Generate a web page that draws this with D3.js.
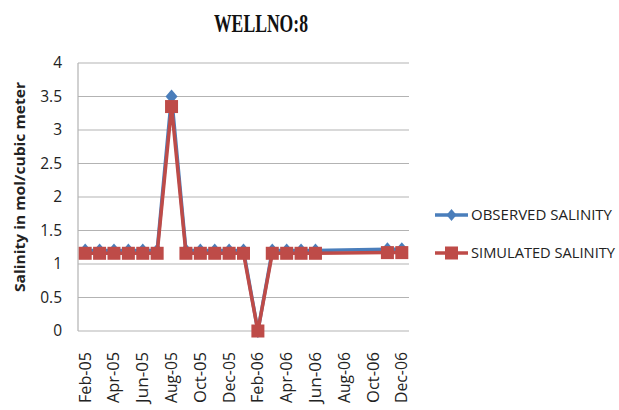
<!DOCTYPE html>
<html><head><meta charset="utf-8">
<script src="https://cdn.jsdelivr.net/npm/d3@7"></script>
<style>body{margin:0;background:#fff}svg{display:block}</style>
</head><body>
<svg id="c" width="619" height="410"></svg>
<script>
const months = ["Feb-05","Mar-05","Apr-05","May-05","Jun-05","Jul-05","Aug-05","Sep-05","Oct-05","Nov-05","Dec-05","Jan-06","Feb-06","Mar-06","Apr-06","May-06","Jun-06","Jul-06","Aug-06","Sep-06","Oct-06","Nov-06","Dec-06"];
const observed = [1.2,1.2,1.2,1.2,1.2,1.2,3.5,1.2,1.2,1.2,1.2,1.2,0,1.2,1.2,1.2,1.2,null,null,null,null,1.22,1.22];
const simulated = [1.16,1.16,1.16,1.16,1.16,1.16,3.35,1.16,1.16,1.16,1.16,1.16,0,1.16,1.16,1.16,1.16,null,null,null,null,1.17,1.17];
const yTicks = [0,0.5,1,1.5,2,2.5,3,3.5,4];
const xTickLabels = ["Feb-05","Apr-05","Jun-05","Aug-05","Oct-05","Dec-05","Feb-06","Apr-06","Jun-06","Aug-06","Oct-06","Dec-06"];
const seriesNames = ["OBSERVED SALINITY","SIMULATED SALINITY"];
const BLUE = "#4a7ebb", RED = "#be4b48";

const svg = d3.select("#c");
const x = d3.scaleBand().domain(months).range([78,409]).padding(0);
const y = d3.scaleLinear().domain([0,4]).range([331,63]);
const cx = m => x(m) + x.bandwidth()/2;

// gridlines
svg.append("g").selectAll("line").data(yTicks).join("line")
  .attr("x1",78).attr("x2",409).attr("y1",d=>y(d)).attr("y2",d=>y(d))
  .attr("stroke","#b3b3b3").attr("stroke-width",1.2);
// left axis line
svg.append("line").attr("x1",78).attr("x2",78).attr("y1",y(4)).attr("y2",y(0))
  .attr("stroke","#b3b3b3").attr("stroke-width",1.2);

// y tick labels
svg.append("g").selectAll("text").data(yTicks).join("text")
  .attr("x",62).attr("y",d=>y(d)).attr("dy","0.35em").attr("text-anchor","end")
  .attr("font-family","Open Sans, sans-serif").attr("font-size",15.5).attr("fill","#222")
  .text(d=>d3.format("")(d));

// x tick labels
svg.append("g").selectAll("text").data(xTickLabels).join("text")
  .attr("transform",d=>`translate(${cx(d)+5.5},352) rotate(-90)`)
  .attr("text-anchor","end")
  .attr("font-family","Open Sans, sans-serif").attr("font-size",15.5).attr("fill","#222")
  .attr("textLength",51).attr("lengthAdjust","spacingAndGlyphs")
  .text(d=>d);

// y axis title
svg.append("text").attr("transform","translate(25,187) rotate(-90)")
  .attr("text-anchor","middle").attr("font-family","Open Sans, sans-serif")
  .attr("font-weight","bold").attr("font-size",15).attr("fill","#222")
  .attr("textLength",210).attr("lengthAdjust","spacingAndGlyphs")
  .text("Salinity in mol/cubic meter");

// title
svg.append("text").attr("x",261).attr("y",32).attr("text-anchor","middle")
  .attr("font-family","Liberation Serif, serif").attr("font-weight","bold").attr("font-size",25)
  .attr("textLength",94).attr("lengthAdjust","spacingAndGlyphs").attr("fill","#111")
  .text("WELLNO:8");

const line = d3.line().x(d=>cx(d.m)).y(d=>y(d.v));
const pts = arr => months.map((m,i)=>({m, v:arr[i]})).filter(d=>d.v!==null);

// observed
svg.append("path").datum(pts(observed)).attr("d",line).attr("fill","none")
  .attr("stroke",BLUE).attr("stroke-width",3.5).attr("stroke-linejoin","round");
svg.append("g").selectAll("path").data(pts(observed)).join("path")
  .attr("transform",d=>`translate(${cx(d.m)},${y(d.v)})`)
  .attr("d","M0,-7L6,0L0,7L-6,0Z").attr("fill",BLUE);

// simulated
svg.append("path").datum(pts(simulated)).attr("d",line).attr("fill","none")
  .attr("stroke",RED).attr("stroke-width",3.5).attr("stroke-linejoin","round");
svg.append("g").selectAll("rect").data(pts(simulated)).join("rect")
  .attr("x",d=>cx(d.m)-6.5).attr("y",d=>y(d.v)-6.5).attr("width",13).attr("height",13)
  .attr("fill",RED);

// legend
const leg = svg.append("g");
const ly = [215,253];
seriesNames.forEach((n,i)=>{
  const g = leg.append("g");
  const col = i===0?BLUE:RED;
  g.append("line").attr("x1",435).attr("x2",468).attr("y1",ly[i]).attr("y2",ly[i])
    .attr("stroke",col).attr("stroke-width",3.5);
  if(i===0) g.append("path").attr("transform",`translate(451.5,${ly[i]})`).attr("d","M0,-6L5,0L0,6L-5,0Z").attr("fill",col);
  else g.append("rect").attr("x",445).attr("y",ly[i]-6.5).attr("width",13).attr("height",13).attr("fill",col);
  g.append("text").attr("x",471).attr("y",ly[i]).attr("dy","0.36em")
    .attr("font-family","Open Sans, sans-serif").attr("font-size",14.5).attr("fill","#222")
    .attr("textLength", i===0?141:144).attr("lengthAdjust","spacingAndGlyphs")
    .text(n);
});
</script>
</body></html>
